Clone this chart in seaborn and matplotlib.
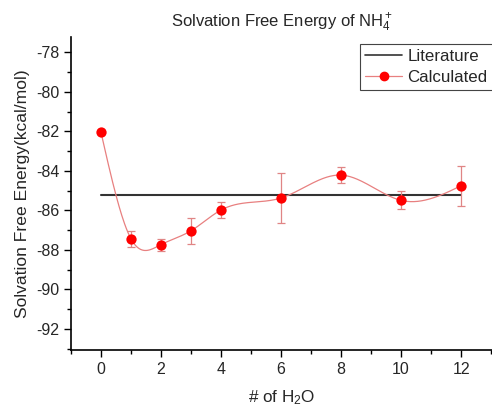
import numpy as np
import matplotlib
matplotlib.use("Agg")
import matplotlib.pyplot as plt
import seaborn as sns
from matplotlib.ticker import MultipleLocator
from matplotlib.lines import Line2D

sns.set_style("ticks")
plt.rcParams['font.family'] = ['Liberation Sans', 'DejaVu Sans']
plt.rcParams['axes.unicode_minus'] = False
plt.rcParams['mathtext.fontset'] = 'custom'
plt.rcParams['mathtext.rm'] = 'Liberation Sans'
plt.rcParams['mathtext.it'] = 'Liberation Sans'

n_water = [0, 1, 2, 3, 4, 6, 8, 10, 12]
calculated = [-82.05, -87.44, -87.73, -87.03, -85.98, -85.37, -84.21, -85.49, -84.75]
errors = [0.0, 0.41, 0.30, 0.66, 0.40, 1.29, 0.40, 0.46, 1.02]
literature_value = -85.22
literature_x = [0, 12]

fig = plt.figure(figsize=(4.92, 4.08), dpi=100)
ax = fig.add_axes([71/492, 1 - 350/408, 1 - 71/492, (350 - 36.7)/408])

# natural cubic spline through the calculated points (for the smooth connecting line)
def natural_spline(x, y, xs):
    x = np.asarray(x, float); y = np.asarray(y, float)
    n = len(x); h = np.diff(x)
    A = np.zeros((n, n)); b = np.zeros(n)
    A[0, 0] = A[-1, -1] = 1
    for i in range(1, n - 1):
        A[i, i - 1] = h[i - 1]; A[i, i] = 2 * (h[i - 1] + h[i]); A[i, i + 1] = h[i]
        b[i] = 3 * ((y[i + 1] - y[i]) / h[i] - (y[i] - y[i - 1]) / h[i - 1])
    c = np.linalg.solve(A, b)
    out = np.empty_like(xs)
    for k, xv in enumerate(xs):
        i = min(np.searchsorted(x, xv, side='right') - 1, n - 2)
        i = max(i, 0)
        d = (c[i + 1] - c[i]) / (3 * h[i])
        bb = (y[i + 1] - y[i]) / h[i] - h[i] * (2 * c[i] + c[i + 1]) / 3
        t = xv - x[i]
        out[k] = y[i] + bb * t + c[i] * t ** 2 + d * t ** 3
    return out

xs = np.linspace(n_water[0], n_water[-1], 400)
ys = natural_spline(n_water, calculated, xs)

ax.plot(literature_x, [literature_value] * 2, color='#333333', lw=1.5, zorder=2)
ax.plot(xs, ys, color='#E88080', lw=0.9, zorder=3)
ax.errorbar(n_water, calculated, yerr=errors, fmt='none', ecolor='#E08585',
            elinewidth=0.9, capsize=3, capthick=0.9, zorder=3)
sns.scatterplot(x=n_water, y=calculated, ax=ax, color='#FF0000', s=55,
                edgecolor='#FF0000', linewidth=0, zorder=4, legend=False)

handles = [Line2D([], [], color='#333333', lw=1.2),
           Line2D([], [], color='#E88080', lw=0.9, marker='o', markersize=6,
                  markerfacecolor='#FF0000', markeredgecolor='#FF0000')]
leg = ax.legend(handles, ['Literature', 'Calculated'], loc='upper left',
                bbox_to_anchor=(289/421, 1 - 7/313.3), fontsize=12.2,
                frameon=True, fancybox=False, framealpha=1, borderpad=0.3,
                handlelength=2.2, handletextpad=0.3, labelspacing=0.35,
                borderaxespad=0)
leg.get_frame().set_edgecolor('#444444')
leg.get_frame().set_linewidth(0.8)

ax.set_xlim(-1, 13.03)
ax.set_ylim(-93.07, -77.2)
ax.xaxis.set_major_locator(MultipleLocator(2))
ax.xaxis.set_minor_locator(MultipleLocator(1))
ax.yaxis.set_major_locator(MultipleLocator(2))
ax.yaxis.set_minor_locator(MultipleLocator(1))
ax.tick_params(which='major', length=5, width=1, labelsize=11.5, color='black')
ax.tick_params(which='minor', length=3, width=1, color='black')
for s in ['top', 'right']:
    ax.spines[s].set_visible(False)
for s in ['left', 'bottom']:
    ax.spines[s].set_linewidth(1.2)
    ax.spines[s].set_color('black')

ax.set_title('Solvation Free Energy of NH$_4^+$', fontsize=12, pad=7)
ax.set_xlabel('# of H$_2$O', fontsize=12.3, labelpad=8)
ax.set_ylabel('Solvation Free Energy(kcal/mol)', fontsize=12.6, labelpad=4)

fig.savefig('out.png', dpi=100)
